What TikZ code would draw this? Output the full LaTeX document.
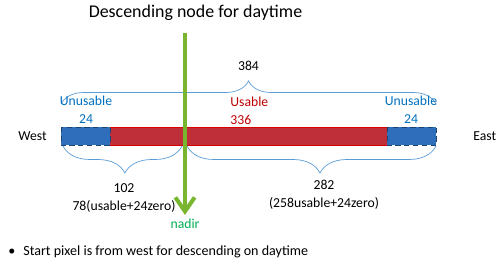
\documentclass[tikz,border=0pt]{standalone}
\usepackage{fontspec}
\setmainfont{Carlito}
\usepackage{xcolor}
\usetikzlibrary{arrows.meta, positioning, decorations.pathreplacing, calc}
\definecolor{unusableblue}{HTML}{2F6EBA}
\definecolor{usablered}{HTML}{BE2F3A}
\definecolor{bracecol}{HTML}{5B9BD5}
\definecolor{textblue}{HTML}{0070C0}
\definecolor{textred}{HTML}{C00000}
\definecolor{nadirgreen}{HTML}{7AB530}
\definecolor{nadirtext}{HTML}{00B050}

\tikzset{
  lbl/.style={font=\fontsize{7.8}{9}\selectfont, inner sep=0pt},
  curly/.style={draw=bracecol, thin, decorate,
    decoration={brace, amplitude=#1}},
  curly/.default=0.5cm
}

\begin{document}
\begin{tikzpicture}[x=0.02cm, y=-0.02cm]
\useasboundingbox (0,0) rectangle (500,273);
% title
\node[inner sep=0pt, font=\fontsize{10.2}{12}\selectfont] (title) at (195.5,13) {Descending node for daytime};
% pixel bar
\coordinate (barNW) at (61,127);
\coordinate (barSE) at (436,145);
\coordinate (redNW) at (110,127);
\coordinate (redSE) at (387,145);
\fill[usablered] (redNW) rectangle (redSE);
\draw[red!85!black, thin] (redNW) -- (redNW -| redSE);
\draw[red!85!black, thin] (redNW |- redSE) -- (redSE);
\foreach \xa/\xb in {61/110, 387/436}{
  \fill[unusableblue] (\xa,127) rectangle (\xb,145);
  \draw[unusableblue!60!black, densely dashed, line width=0.3pt] (\xa,127) rectangle (\xb,145);
}
% top brace
\draw[curly=0.46cm] (61,104) -- (436,104);
\node[lbl] (total) at (248.5,66) {384};
% segment labels
\node[lbl, textblue, align=center] (unusW) at (86,109.5) {Unusable\\[1.2pt]24};
\node[lbl, textred, align=left, anchor=west] (usable) at (230,110.5) {Usable\\[1.2pt]336};
\node[lbl, textblue, align=center] (unusE) at (411,109.5) {Unusable\\[1.2pt]24};
\node[lbl, anchor=west] (west) at (18,136) {West};
\node[lbl, anchor=west] (east) at (473,136) {East};
% bottom braces
\draw[curly=0.54cm, decoration={mirror, aspect=0.52}] (63,146) -- (182,146);
\draw[curly=0.54cm, decoration={mirror, aspect=0.534}] (187,146) -- (436,146);
\node[lbl, align=center] (leftcnt) at (124,198) {102\\[1.2pt]78(usable+24zero)};
\node[lbl, align=center] (rightcnt) at (324,195) {282\\[1.2pt](258usable+24zero)};
% nadir arrow
\coordinate (nadirTop) at (185,33);
\coordinate (nadirTip) at (185,215);
\draw[nadirgreen, line width=2.3pt,
  -{Straight Barb[length=8pt, width=11pt, line width=2.3pt]}] (nadirTop) -- (nadirTip);
\node[lbl, nadirtext, below=2pt of nadirTip] (nadir) {nadir};
% note
\node[lbl, anchor=west, font=\fontsize{8}{10}\selectfont] (bullet) at (8,252) {\textbullet};
\node[lbl, anchor=west, font=\fontsize{8}{10}\selectfont] (note) at (23,252) {Start pixel is from west for descending on daytime};
\end{tikzpicture}
\end{document}
